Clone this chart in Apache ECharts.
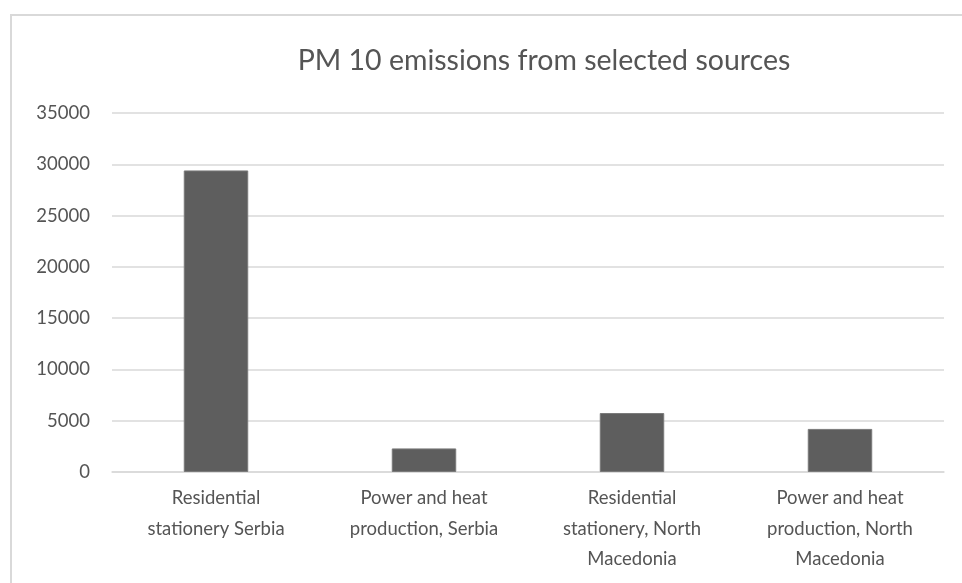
<!DOCTYPE html>
<html>
<head>
<meta charset="utf-8">
<style>
  html, body { margin: 0; padding: 0; background: #ffffff; }
  #chart { width: 962px; height: 583px; }
</style>
<script src="https://cdn.jsdelivr.net/npm/echarts@6/dist/echarts.min.js"></script>
</head>
<body>
<div id="chart"></div>
<script>
// PM10 emissions by source (tonnes)
const chartTitle = 'PM 10 emissions from selected sources';
const categories = [
  'Residential\nstationery Serbia',
  'Power and heat\nproduction, Serbia',
  'Residential\nstationery, North\nMacedonia',
  'Power and heat\nproduction, North\nMacedonia'
];
const emissions = [29400, 2300, 5750, 4200];
const yMin = 0;
const yMax = 35000;
const yStep = 5000;

const FONT = 'Lato, "Open Sans", sans-serif';
const TEXT = '#555555';
const GRID = '#d9d9d9';

const chart = echarts.init(document.getElementById('chart'), null, { renderer: 'canvas' });

chart.setOption({
  backgroundColor: '#ffffff',
  animation: false,
  graphic: [{
    type: 'rect',
    silent: true,
    z: -10,
    shape: { x: 11, y: 15, width: 1000, height: 640 },
    style: { fill: 'none', stroke: GRID, lineWidth: 2 }
  }],
  title: {
    text: chartTitle,
    left: 539,
    top: 41,
    textAlign: 'center',
    textStyle: { fontFamily: FONT, fontSize: 28.5, fontWeight: 'normal', color: TEXT }
  },
  grid: { left: 112, right: 18, top: 113, bottom: 111, containLabel: false },
  xAxis: {
    type: 'category',
    data: categories,
    axisLine: { show: true, lineStyle: { color: GRID, width: 1.5 } },
    axisTick: { show: false },
    axisLabel: {
      interval: 0,
      margin: 11,
      color: TEXT,
      fontFamily: FONT,
      fontSize: 18.5,
      lineHeight: 30.5,
      align: 'center'
    }
  },
  yAxis: {
    type: 'value',
    min: yMin,
    max: yMax,
    interval: yStep,
    axisLine: { show: false },
    axisTick: { show: false },
    splitLine: { lineStyle: { color: GRID, width: 1.5 } },
    axisLabel: {
      margin: 22,
      color: TEXT,
      fontFamily: FONT,
      fontSize: 18.5,
      formatter: (v) => String(v)
    }
  },
  series: [{
    type: 'bar',
    data: emissions,
    barWidth: '31%',
    itemStyle: { color: '#5e5e5e', borderColor: '#7a7a7a', borderWidth: 1 }
  }]
});
</script>
</body>
</html>
